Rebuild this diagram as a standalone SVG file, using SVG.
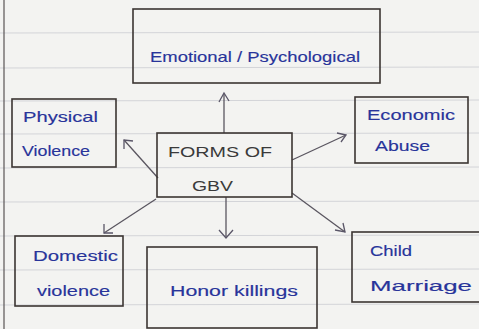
<svg xmlns="http://www.w3.org/2000/svg" width="479" height="329" viewBox="0 0 479 329">
<defs>
<style>
.paper{fill:#f3f3f1}
.rule{stroke:#d3d4d8;stroke-width:1}
.box{fill:none;stroke:#3b3532;stroke-width:1.6}
.ink{font-family:"Liberation Sans","DejaVu Sans",sans-serif;fill:#28349a;stroke:#28349a;stroke-width:0.15;font-size:15px}
.pencil{font-family:"Liberation Sans","DejaVu Sans",sans-serif;fill:#3a3a3a;font-size:14px}
.conn{stroke:#5a5660;stroke-width:1.3;fill:none}
.head{stroke:#5a5668;stroke-width:1.3;fill:none}
</style>
</defs>
<rect class="paper" x="0" y="0" width="479" height="329"/>
<g id="paper-lines">
<line class="rule" x1="0" y1="33" x2="479" y2="32"/>
<line class="rule" x1="0" y1="68" x2="479" y2="67"/>
<line class="rule" x1="0" y1="101" x2="479" y2="100"/>
<line class="rule" x1="0" y1="134" x2="479" y2="133"/>
<line class="rule" x1="0" y1="168" x2="479" y2="167"/>
<line class="rule" x1="0" y1="202" x2="479" y2="201"/>
<line class="rule" x1="0" y1="236" x2="479" y2="235"/>
<line class="rule" x1="0" y1="270" x2="479" y2="269"/>
<line class="rule" x1="0" y1="305" x2="479" y2="304"/>
<line x1="4" y1="0" x2="4" y2="329" stroke="#5a5555" stroke-width="1.2"/>
</g>
<g id="connectors">
<line class="conn" x1="224" y1="133" x2="224" y2="94"/>
<polyline class="head" points="219,102 224,93 229,101"/>
<line class="conn" x1="158" y1="178" x2="124" y2="140"/>
<polyline class="head" points="124,149 124,140 133,141"/>
<line class="conn" x1="292" y1="160" x2="346" y2="135"/>
<polyline class="head" points="337,133 346,135 341,142"/>
<line class="conn" x1="156" y1="199" x2="104" y2="233"/>
<polyline class="head" points="104,224 104,233 113,233"/>
<line class="conn" x1="226" y1="197" x2="226" y2="238"/>
<polyline class="head" points="219,230 226,238 233,230"/>
<line class="conn" x1="292" y1="193" x2="345" y2="232"/>
<polyline class="head" points="335,230 345,232 343,223"/>
</g>
<g id="emotional">
<rect class="box" x="133" y="9" width="247" height="74"/>
<text class="ink" x="150" y="62" font-size="16" textLength="210" lengthAdjust="spacingAndGlyphs">Emotional / Psychological</text>
</g>
<g id="physical">
<rect class="box" x="12" y="99" width="104" height="68"/>
<text class="ink" x="23" y="122" textLength="75" lengthAdjust="spacingAndGlyphs">Physical</text>
<text class="ink" x="22" y="156" textLength="68" lengthAdjust="spacingAndGlyphs">Violence</text>
</g>
<g id="economic">
<rect class="box" x="355" y="97" width="113" height="66"/>
<text class="ink" x="367" y="120" font-size="13" textLength="88" lengthAdjust="spacingAndGlyphs">Economic</text>
<text class="ink" x="375" y="151" font-size="14" textLength="55" lengthAdjust="spacingAndGlyphs">Abuse</text>
</g>
<g id="forms">
<rect class="box" x="157" y="133" width="135" height="64"/>
<text class="pencil" x="168" y="157" textLength="104" lengthAdjust="spacingAndGlyphs">FORMS OF</text>
<text class="pencil" x="192" y="191" textLength="41" lengthAdjust="spacingAndGlyphs">GBV</text>
</g>
<g id="domestic">
<rect class="box" x="15" y="236" width="108" height="70"/>
<text class="ink" x="33" y="261" textLength="85" lengthAdjust="spacingAndGlyphs">Domestic</text>
<text class="ink" x="37" y="296" textLength="73" lengthAdjust="spacingAndGlyphs">violence</text>
</g>
<g id="honor">
<rect class="box" x="147" y="247" width="170" height="81"/>
<text class="ink" x="170" y="296" textLength="128" lengthAdjust="spacingAndGlyphs">Honor killings</text>
</g>
<g id="child">
<rect class="box" x="352" y="232" width="128" height="70"/>
<text class="ink" x="370" y="256" textLength="42" lengthAdjust="spacingAndGlyphs">Child</text>
<text class="ink" x="370" y="291" font-size="14" textLength="102" lengthAdjust="spacingAndGlyphs">Marriage</text>
</g>
</svg>
